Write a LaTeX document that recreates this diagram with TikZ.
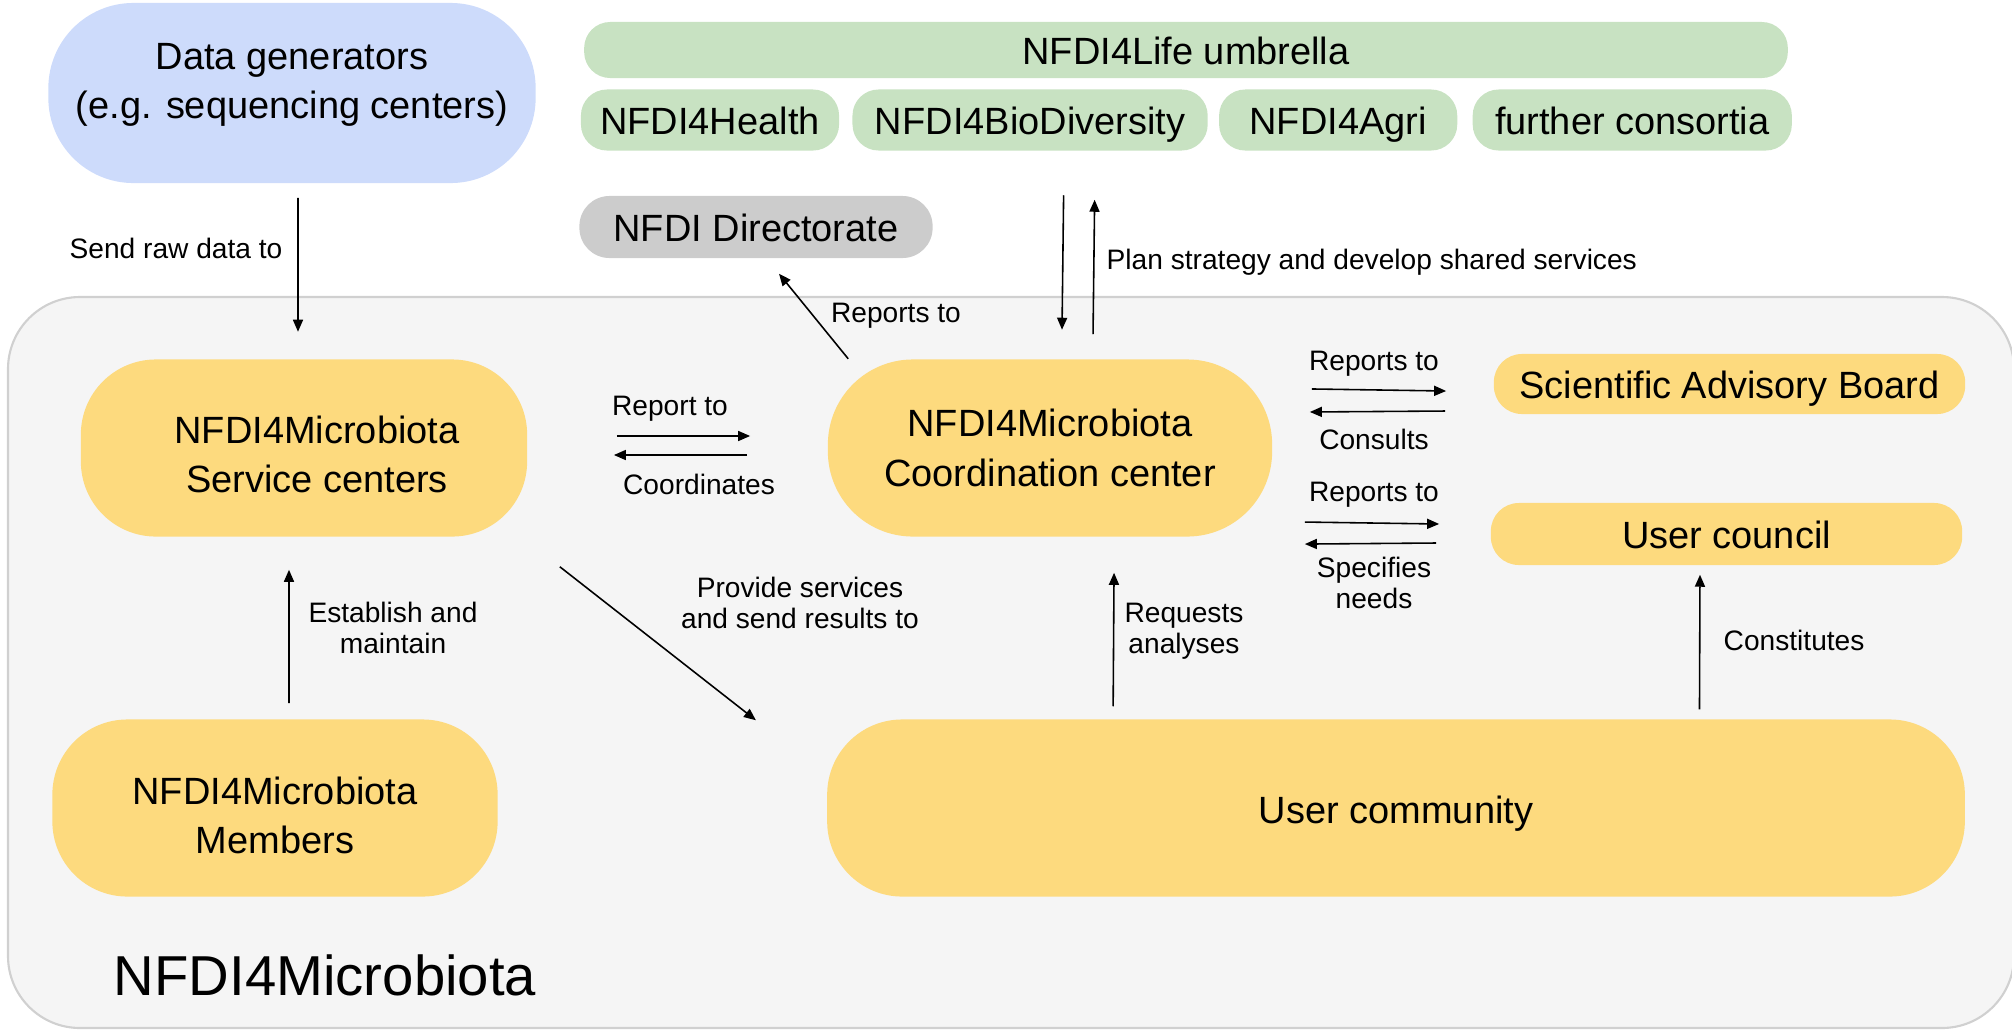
\documentclass[tikz,border=0pt]{standalone}
\usepackage{fontspec}
\setmainfont{Liberation Sans}
\usepackage{tikz}
\usetikzlibrary{shapes.geometric, arrows.meta}
\usetikzlibrary{positioning}
\usepackage{xcolor}
\definecolor{genblue}{HTML}{CDDBFB}
\definecolor{lifegreen}{HTML}{C8E2C2}
\definecolor{dirgray}{HTML}{CCCCCC}
\definecolor{microyellow}{HTML}{FDDA7E}
\definecolor{boxgray}{HTML}{F5F5F5}
\definecolor{boxline}{HTML}{D0D0D0}
\tikzstyle{arrow} = [line width=0.45pt,-{Triangle[length=0.12cm,width=0.1cm]}]
\tikzstyle{bignode} = [rectangle, rounded corners=0.75cm, minimum width=4.46cm, minimum height=1.77cm, align=center, fill=microyellow, font=\fontsize{10.8pt}{14pt}\selectfont]
\tikzstyle{slimnode} = [rectangle, rounded corners=0.28cm, minimum height=0.6cm, minimum width=4.71cm, inner ysep=0.05cm, text height=0.36cm, text depth=0.08cm, fill=microyellow, font=\fontsize{10.8pt}{14pt}\selectfont]
\tikzstyle{consortium} = [rectangle, rounded corners=0.26cm, minimum height=0.61cm, inner ysep=0.05cm, text height=0.36cm, text depth=0.08cm, fill=lifegreen, font=\fontsize{10.8pt}{14pt}\selectfont]
\tikzstyle{lbl} = [inner sep=0pt, align=center, font=\fontsize{8pt}{8.8pt}\selectfont]

\begin{document}
\begin{tikzpicture}[x=0.01cm, y=-0.01cm]
      \useasboundingbox (0,0) rectangle (2012,1030);
      \draw [boxline, fill=boxgray, line width=0.6pt, rounded corners=0.72cm] (8,297) rectangle (2014,1028);
      \node (title) [inner sep=0pt, font=\fontsize{16pt}{18pt}\selectfont] at (325,975) {NFDI4Microbiota};

      \node (gen) [bignode, fill=genblue, minimum width=4.87cm, minimum height=1.80cm, rounded corners=0.85cm, text depth=0.24cm] at (292,93) {Data generators\\(e.g. sequencing centers)};
      \node (umbrella) [consortium, minimum width=12.03cm, minimum height=0.56cm] at (1186,50) {NFDI4Life umbrella};
      \node (health) [consortium, minimum width=2.58cm] at (710,120) {NFDI4Health};
      \node (biodiv) [consortium, minimum width=3.55cm, right=0.12cm of health] {NFDI4BioDiversity};
      \node (agri) [consortium, minimum width=2.38cm, right=0.10cm of biodiv] {NFDI4Agri};
      \node (further) [consortium, minimum width=3.19cm, right=0.14cm of agri] {further consortia};
      \node (dir) [consortium, fill=dirgray, minimum width=3.53cm, minimum height=0.62cm, rounded corners=0.3cm] at (756,227) {NFDI Directorate};

      \node (service) [bignode, text height=0.89cm] at (304,448) {\hspace*{0.26cm}NFDI4Microbiota\\\hspace*{0.26cm}Service centers};
      \node (coord) [bignode, minimum width=4.44cm, rounded corners=0.85cm] at (1050,448) {NFDI4Microbiota\\Coordination center};
      \node (members) [bignode, minimum width=4.45cm, text height=0.92cm] at (275,808) {NFDI4Microbiota\\Members};
      \node (community) [bignode, minimum width=11.37cm, text height=0.38cm] at (1396,808) {User community};
      \node (sab) [slimnode] at (1729.5,384) {Scientific Advisory Board};
      \node (council) [slimnode, minimum height=0.62cm] at (1726.5,534) {User council};

      \draw [arrow] ([xshift=0.06cm,yshift=-0.14cm]gen.south) -- ([xshift=-0.06cm,yshift=0.27cm]service.north);
      \node (lblsend) [lbl] at (176,248) {Send raw data to};

      \draw [arrow] ([xshift=0.21cm]coord.north west) -- ([xshift=0.23cm,yshift=-0.15cm]dir.south);
      \node (lbldir) [lbl] at (896,316) {Reports to};

      \draw [arrow] ([xshift=0.335cm,yshift=-0.44cm]biodiv.south) -- ([xshift=0.12cm,yshift=0.29cm]coord.north);
      \draw [arrow] ([xshift=0.43cm,yshift=0.245cm]coord.north) -- ([xshift=0.645cm,yshift=-0.485cm]biodiv.south);
      \node (lblplan) [lbl, anchor=west] at (1106,262) {Plan strategy and develop shared services};

      \draw [arrow] ([xshift=0.89cm,yshift=0.12cm]service.east) -- ([xshift=-0.77cm,yshift=0.12cm]coord.west);
      \draw [arrow] ([xshift=-0.80cm,yshift=-0.07cm]coord.west) -- ([xshift=0.86cm,yshift=-0.07cm]service.east);
      \node (lblreport) [lbl] at (670,409) {Report to};
      \node (lblcoordinates) [lbl] at (699,484) {Coordinates};

      \draw [arrow] ([xshift=0.32cm,yshift=-0.295cm]service.south east) -- ([xshift=-0.705cm,yshift=-0.015cm]community.north west);
      \node (lblprovide) [lbl] at (800,603) {Provide services\\and send results to};

      \draw [arrow] ([xshift=0.14cm,yshift=0.155cm]members.north) -- ([xshift=-0.15cm,yshift=-0.325cm]service.south);
      \node (lblestablish) [lbl] at (393,628) {Establish and\\maintain};

      \draw [arrow] ([xshift=2.865cm,yshift=0.125cm]community.north west) -- ([xshift=0.64cm,yshift=-0.355cm]coord.south);
      \node (lblrequests) [lbl] at (1184,631) {Requests\\analyses};

      \draw [arrow] ([xshift=8.725cm,yshift=0.095cm]community.north west) -- ([xshift=-0.265cm,yshift=-0.09cm]council.south);
      \node (lblconstitutes) [lbl, anchor=west] at (1723,640) {Constitutes};

      \draw [arrow] ([xshift=0.39cm,yshift=0.59cm]coord.east) -- ([xshift=-0.47cm,yshift=-0.07cm]sab.west);
      \draw [arrow] ([xshift=-0.48cm,yshift=-0.27cm]sab.west) -- ([xshift=0.37cm,yshift=0.36cm]coord.east);
      \node (lblsabreport) [lbl] at (1374,364) {Reports to};
      \node (lblconsults) [lbl] at (1374,439) {Consults};

      \draw [arrow] ([xshift=0.32cm,yshift=-0.74cm]coord.east) -- ([xshift=-0.51cm,yshift=0.10cm]council.west);
      \draw [arrow] ([xshift=-0.54cm,yshift=-0.09cm]council.west) -- ([xshift=0.32cm,yshift=-0.96cm]coord.east);
      \node (lblucreport) [lbl] at (1374,495) {Reports to};
      \node (lblneeds) [lbl] at (1374,583) {Specifies\\needs};
    \end{tikzpicture}
\end{document}
